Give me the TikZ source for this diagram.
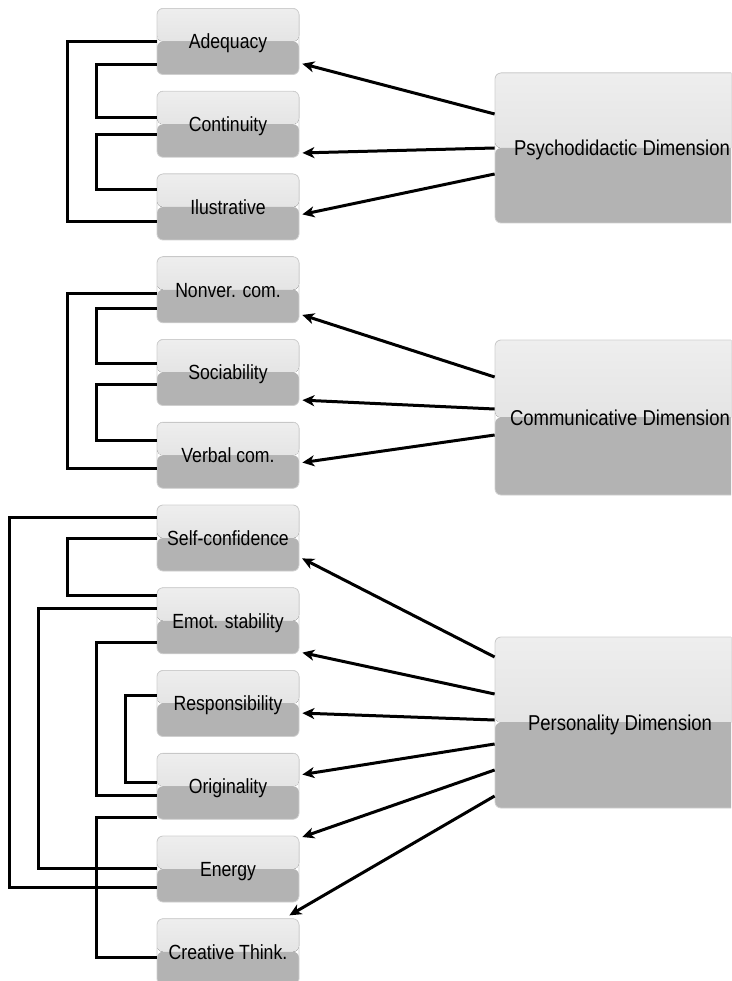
\documentclass[tikz,border=0pt]{standalone}
\usepackage{fontspec}
\setmainfont{Liberation Sans}[FakeStretch=0.86]
\usetikzlibrary{arrows.meta,calc}
\definecolor{boxtop}{HTML}{EEEEEE}\definecolor{boxmid}{HTML}{DBDBDB}\definecolor{boxlow}{HTML}{B3B3B3}\definecolor{boxrim}{HTML}{CFCFCF}
\tikzset{>={Stealth[length=12pt,width=11pt,inset=3.5pt]},
 panel/.style={draw=boxrim,line width=.8pt,rounded corners=6pt,text depth=0pt,path picture={\fill[top color=boxtop,bottom color=boxmid] (path picture bounding box.north west) rectangle (path picture bounding box.east);\fill[boxlow] (path picture bounding box.west) rectangle (path picture bounding box.south east);}},
 attr/.style={panel,minimum width=142pt,minimum height=66pt,text height=14.5pt,font=\fontsize{20.5}{23}\selectfont},
 dim/.style={panel,minimum width=250pt,text height=15pt,font=\fontsize{21.5}{24}\selectfont},
 link/.style={line width=3pt},pull/.style={line width=3pt,->,shorten >=3pt}}
\newcommand{\pairline}[5]{\draw[link] ($(#1.west)+(0,#2)$) -- ++(-#5,0) |- ($(#3.west)+(0,#4)$);}
\newcommand{\pointto}[4]{\draw[pull] ($(#1.west)+(0,#2)$) -- ($(#3.east)+(0,#4)$);}
\begin{document}
\begin{tikzpicture}[x=1pt,y=-1pt]
\clip (0,0) rectangle (731,981);
% attribute boxes
\foreach \nm/\lab [count=\i from 0] in {ade/Adequacy,con/Continuity,ilu/Ilustrative,non/Nonver. com.,soc/Sociability,ver/Verbal com.,sel/Self-confidence,emo/Emot. stability,res/Responsibility,ori/Originality,ene/Energy,cre/Creative Think.}
 \node[attr] (\nm) at (228,{41.5+82.75*\i}) {\lab};
% dimensions
\node[dim,minimum width=254pt,minimum height=150pt] (psy) at (622,148) {Psychodidactic Dimension};
\node[dim,minimum height=155pt] (com) at (620,417.5) {Communicative Dimension};
\node[dim,minimum height=171pt] (per) at (620,722.5) {Personality Dimension};

\pairline{ade}{0.5}{ilu}{15}{89}\pairline{ade}{23.5}{con}{-6.25}{60}\pairline{con}{10.75}{ilu}{-17}{60}
\pairline{non}{3.25}{ver}{12.75}{89}\pairline{non}{18.25}{soc}{-9.5}{60}\pairline{soc}{11.5}{ver}{-15.25}{60}
\pairline{sel}{-21}{ene}{18}{147}\pairline{sel}{0}{emo}{-25.75}{89}\pairline{emo}{-12.75}{ene}{-1}{118}
\pairline{emo}{21.25}{ori}{8.75}{60}\pairline{res}{-8.5}{ori}{-4.25}{31}\pairline{ori}{30.75}{cre}{6}{60}

\pointto{psy}{-34}{ade}{21.5}\pointto{psy}{0}{con}{28.75}\pointto{psy}{26}{ilu}{8}
\pointto{com}{-40.5}{non}{24.25}\pointto{com}{-8.5}{soc}{27.5}\pointto{com}{17.5}{ver}{7.75}
\pointto{per}{-65.5}{sel}{19}\pointto{per}{-28.5}{emo}{31.25}\pointto{per}{-2.5}{res}{9.5}
\pointto{per}{21.5}{ori}{-11.25}\pointto{per}{47.5}{ene}{-31}
\draw[pull,shorten >=0pt] ($(per.west)+(0,73.5)$) -- ($(cre.north east)+(-10,-3)$);
\end{tikzpicture}
\end{document}
